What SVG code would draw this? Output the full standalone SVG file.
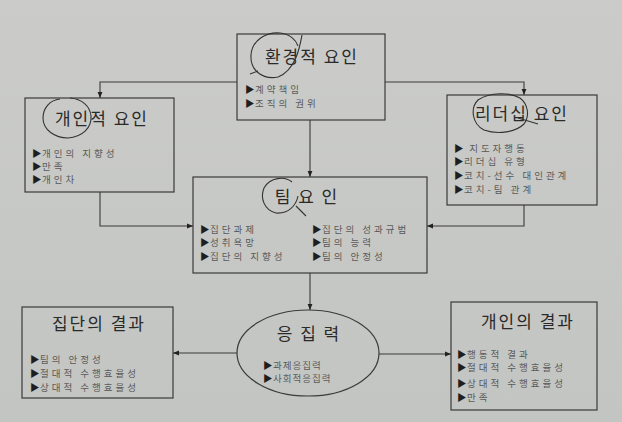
<svg xmlns="http://www.w3.org/2000/svg" width="622" height="422" viewBox="0 0 622 422">
<style>
.box{fill:none;stroke:#3a3a3a;stroke-width:1.2}
.title{font-family:"Noto Sans CJK KR","Noto Sans",sans-serif;font-size:17px;fill:#2a2a2a;text-anchor:middle;letter-spacing:2px}
.item{font-family:"Noto Sans CJK KR","Noto Sans",sans-serif;font-size:9.5px;fill:#5a5a5a;letter-spacing:3px}
.tri{fill:#1e1e1e;letter-spacing:0.5px}
.conn{fill:none;stroke:#3a3a3a;stroke-width:1.1}
.ann{fill:none;stroke:#333;stroke-width:1.1}
</style>
<defs>
<linearGradient id="bg" x1="0" y1="0" x2="0" y2="1">
<stop offset="0" stop-color="#cbccc9"/>
<stop offset="1" stop-color="#c3c5c2"/>
</linearGradient>
<marker id="ah" viewBox="0 0 10 10" refX="10" refY="5" markerWidth="6" markerHeight="6" orient="auto" markerUnits="userSpaceOnUse">
<path d="M0,1 L10,5 L0,9 z" fill="#222"/>
</marker>
</defs>
<rect x="0" y="0" width="622" height="422" fill="url(#bg)"/>

<g id="connectors">
<path class="conn" d="M237,82 H100 V98" marker-end="url(#ah)"/>
<path class="conn" d="M385,82 H524 V95" marker-end="url(#ah)"/>
<path class="conn" d="M310,120 V177" marker-end="url(#ah)"/>
<path class="conn" d="M100,192 V226 H193" marker-end="url(#ah)"/>
<path class="conn" d="M524,205 V226 H427" marker-end="url(#ah)"/>
<path class="conn" d="M310,273 V310" marker-end="url(#ah)"/>
<path class="conn" d="M237,353 H173" marker-end="url(#ah)"/>
<path class="conn" d="M379,354 H451" marker-end="url(#ah)"/>
</g>

<g id="env">
<rect class="box" x="237" y="34" width="148" height="86"/>
<text class="title" x="312" y="63">환경적 요인</text>
<text class="item" x="245" y="93"><tspan class="tri">▶</tspan>계약책임</text>
<text class="item" x="245" y="107"><tspan class="tri">▶</tspan>조직의 권위</text>
</g>

<g id="personal">
<rect class="box" x="25" y="98" width="149" height="94"/>
<text class="title" x="102" y="125">개인적 요인</text>
<text class="item" x="32" y="157"><tspan class="tri">▶</tspan>개인의 지향성</text>
<text class="item" x="32" y="170"><tspan class="tri">▶</tspan>만족</text>
<text class="item" x="32" y="183"><tspan class="tri">▶</tspan>개인차</text>
</g>

<g id="leadership">
<rect class="box" x="447" y="95" width="150" height="110"/>
<text class="title" x="522" y="120">리더십 요인</text>
<text class="item" x="454" y="152"><tspan class="tri">▶</tspan> 지도자행동</text>
<text class="item" x="454" y="165"><tspan class="tri">▶</tspan>리더십 유형</text>
<text class="item" x="454" y="179"><tspan class="tri">▶</tspan>코치-선수 대인관계</text>
<text class="item" x="454" y="193"><tspan class="tri">▶</tspan>코치-팀 관계</text>
</g>

<g id="team">
<rect class="box" x="193" y="177" width="234" height="96"/>
<text class="title" x="307" y="203">팀 요 인</text>
<text class="item" x="200" y="233"><tspan class="tri">▶</tspan>집단과제</text>
<text class="item" x="200" y="246"><tspan class="tri">▶</tspan>성취욕망</text>
<text class="item" x="200" y="260"><tspan class="tri">▶</tspan>집단의 지향성</text>
<text class="item" x="312" y="233"><tspan class="tri">▶</tspan>집단의 성과규범</text>
<text class="item" x="312" y="246"><tspan class="tri">▶</tspan>팀의 능력</text>
<text class="item" x="312" y="260"><tspan class="tri">▶</tspan>팀의 안정성</text>
</g>

<g id="group-result">
<rect class="box" x="22" y="307" width="151" height="91"/>
<text class="title" x="99" y="330">집단의 결과</text>
<text class="item" x="30" y="363"><tspan class="tri">▶</tspan>팀의 안정성</text>
<text class="item" x="30" y="377"><tspan class="tri">▶</tspan>절대적 수행효율성</text>
<text class="item" x="30" y="391"><tspan class="tri">▶</tspan>상대적 수행효율성</text>
</g>

<g id="cohesion">
<ellipse class="box" cx="308" cy="353" rx="71" ry="43"/>
<text class="title" x="309" y="340">응 집 력</text>
<text class="item" x="263" y="369" style="letter-spacing:1px"><tspan class="tri">▶</tspan>과제응집력</text>
<text class="item" x="263" y="382" style="letter-spacing:1px"><tspan class="tri">▶</tspan>사회적응집력</text>
</g>

<g id="individual-result">
<rect class="box" x="451" y="302" width="146" height="108"/>
<text class="title" x="528" y="328">개인의 결과</text>
<text class="item" x="457" y="358"><tspan class="tri">▶</tspan>행동적 결과</text>
<text class="item" x="457" y="371"><tspan class="tri">▶</tspan>절대적 수행효율성</text>
<text class="item" x="457" y="387"><tspan class="tri">▶</tspan>상대적 수행효율성</text>
<text class="item" x="457" y="401"><tspan class="tri">▶</tspan>만족</text>
</g>

<g id="annotations">
<path class="ann" d="M302,35 C300,46 296,70 278,77 C262,80 250,70 251,55 C252,40 266,32 280,33 C290,34 296,40 298,46 M258,71 L250,74"/>
<path class="ann" d="M60,99 C50,100 43,108 43,118 C43,130 55,138 68,138 C82,137 92,128 91,116 C90,106 82,99 70,98"/>
<path class="ann" d="M520,98 C510,92 490,92 478,100 C470,108 472,124 484,130 C498,135 516,132 524,124 C530,116 528,104 520,98 M518,118 L538,124"/>
<path class="ann" d="M292,182 C285,176 270,177 264,188 C260,198 264,210 276,213 C288,214 296,206 298,196 M296,206 L306,216"/>
</g>
</svg>
